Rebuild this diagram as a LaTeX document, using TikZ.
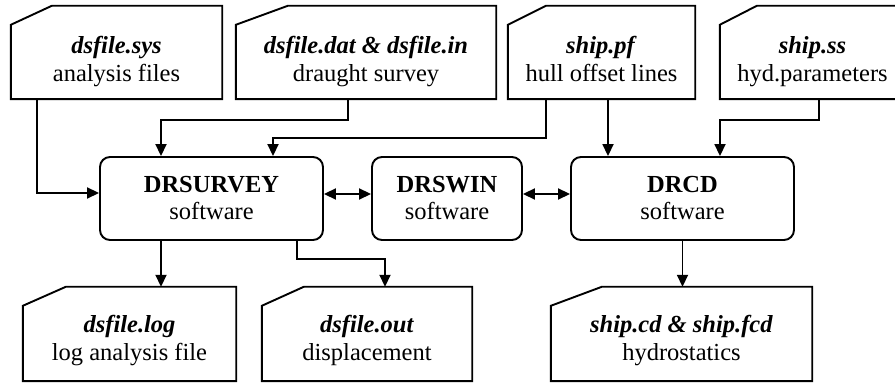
\documentclass[tikz,border=0pt]{standalone}
\usepackage{fontspec}
\setmainfont{Liberation Serif}[Ligatures=TeX]
\usetikzlibrary{arrows.meta,calc}
\newcommand\fileoutline[2]{% name, cut width
  \draw[boxline] (#1.south west) -- ($(#1.north west)+(0,-19)$) -- ($(#1.north west)+(#2,0)$) -- (#1.north east) -- (#1.south east) -- cycle;}
\begin{document}
\begin{tikzpicture}[x=1pt,y=1pt,
  boxline/.style={line width=1.9pt, line join=miter},
  fbox/.style={draw=none, inner sep=0pt},
  soft/.style={draw, line width=1.9pt, rounded corners=10pt, inner sep=0pt},
  txt/.style={inner sep=0pt, anchor=base, font=\fontsize{24.5}{28}\selectfont},
  arr/.style={line width=1.8pt, -{Triangle[length=12pt,width=11pt]}},
  darr/.style={line width=1.8pt, {Triangle[length=12pt,width=11pt]}-{Triangle[length=12pt,width=11pt]}}]
\useasboundingbox (0,0) rectangle (895,383);
\clip (0,0) rectangle (895,383);
\fill[white] (0,0) rectangle (895,383);

% top file boxes
\node[fbox, minimum width=211, minimum height=93] (sys) at (116.5,330.5) {};
\fileoutline{sys}{41}
\node[txt] (sys1) at (116.5,329) {\textbf{\textit{dsfile.sys}}};
\node[txt] (sys2) at (116.5,301) {analysis files};

\node[fbox, minimum width=260, minimum height=93] (dat) at (366,330.5) {};
\fileoutline{dat}{52}
\node[txt] (dat1) at (366,329) {\textbf{\textit{dsfile.dat \& dsfile.in}}};
\node[txt] (dat2) at (366,301) {draught survey};

\node[fbox, minimum width=187, minimum height=93] (pf) at (601.5,330.5) {};
\fileoutline{pf}{38}
\node[txt] (pf1) at (601.5,329) {\textbf{\textit{ship.pf}}};
\node[txt] (pf2) at (601.5,301) {hull offset lines};

\node[fbox, minimum width=185, minimum height=93] (ss) at (812.5,330.5) {};
\fileoutline{ss}{37}
\node[txt] (ss1) at (812.5,329) {\textbf{\textit{ship.ss}}};
\node[txt] (ss2) at (812.5,301) {hyd.parameters};

% software boxes
\node[soft, minimum width=223, minimum height=83] (drs) at (211.5,184.5) {};
\node[txt] (drs1) at (211.5,190) {\textbf{DRSURVEY}};
\node[txt] (drs2) at (211.5,163) {software};

\node[soft, minimum width=150, minimum height=83] (win) at (447,184.5) {};
\node[txt] (win1) at (447,190) {\textbf{DRSWIN}};
\node[txt] (win2) at (447,163) {software};

\node[soft, minimum width=223, minimum height=83] (drcd) at (682.5,184.5) {};
\node[txt] (drcd1) at (682.5,190) {\textbf{DRCD}};
\node[txt] (drcd2) at (682.5,163) {software};

% bottom file boxes
\node[fbox, minimum width=213, minimum height=94] (log) at (129.5,49) {};
\fileoutline{log}{43}
\node[txt] (log1) at (129.5,50) {\textbf{\textit{dsfile.log}}};
\node[txt] (log2) at (129.5,22) {log analysis file};

\node[fbox, minimum width=210, minimum height=94] (out) at (367,49) {};
\fileoutline{out}{42}
\node[txt] (out1) at (367,50) {\textbf{\textit{dsfile.out}}};
\node[txt] (out2) at (367,22) {displacement};

\node[fbox, minimum width=261, minimum height=94] (cd) at (681.5,49) {};
\fileoutline{cd}{51}
\node[txt] (cd1) at (681.5,50) {\textbf{\textit{ship.cd \& ship.fcd}}};
\node[txt] (cd2) at (681.5,22) {hydrostatics};

% connectors
\draw[arr] ([xshift=-79.5]sys.south) |- ([yshift=5.5]drs.west);
\draw[arr] ([xshift=-18]dat.south) -- ++(0,-21) -| ([xshift=-50.5]drs.north);
\draw[arr] ([xshift=-55.5]pf.south) -- ++(0,-39) -| ([xshift=61.5]drs.north);
\draw[arr] ([xshift=6.5]pf.south) -- ([xshift=6.5]pf.south |- drcd.north);
\draw[arr] ([xshift=6.5]ss.south) -- ++(0,-21) -| ([xshift=37.5]drcd.north);
\draw[darr] ([yshift=4.5]drs.east) -- ([yshift=4.5]drs.east -| win.west);
\draw[darr] ([yshift=4.5]win.east) -- ([yshift=4.5]win.east -| drcd.west);
\draw[arr] ([xshift=-50.5]drs.south) -- ([xshift=-50.5]drs.south |- log.north);
\draw[arr] ([xshift=85.5]drs.south) -- ++(0,-18) -| ([xshift=18]out.north);
\draw[arr] (drcd.south) -- (drcd.south |- cd.north);
\end{tikzpicture}
\end{document}
